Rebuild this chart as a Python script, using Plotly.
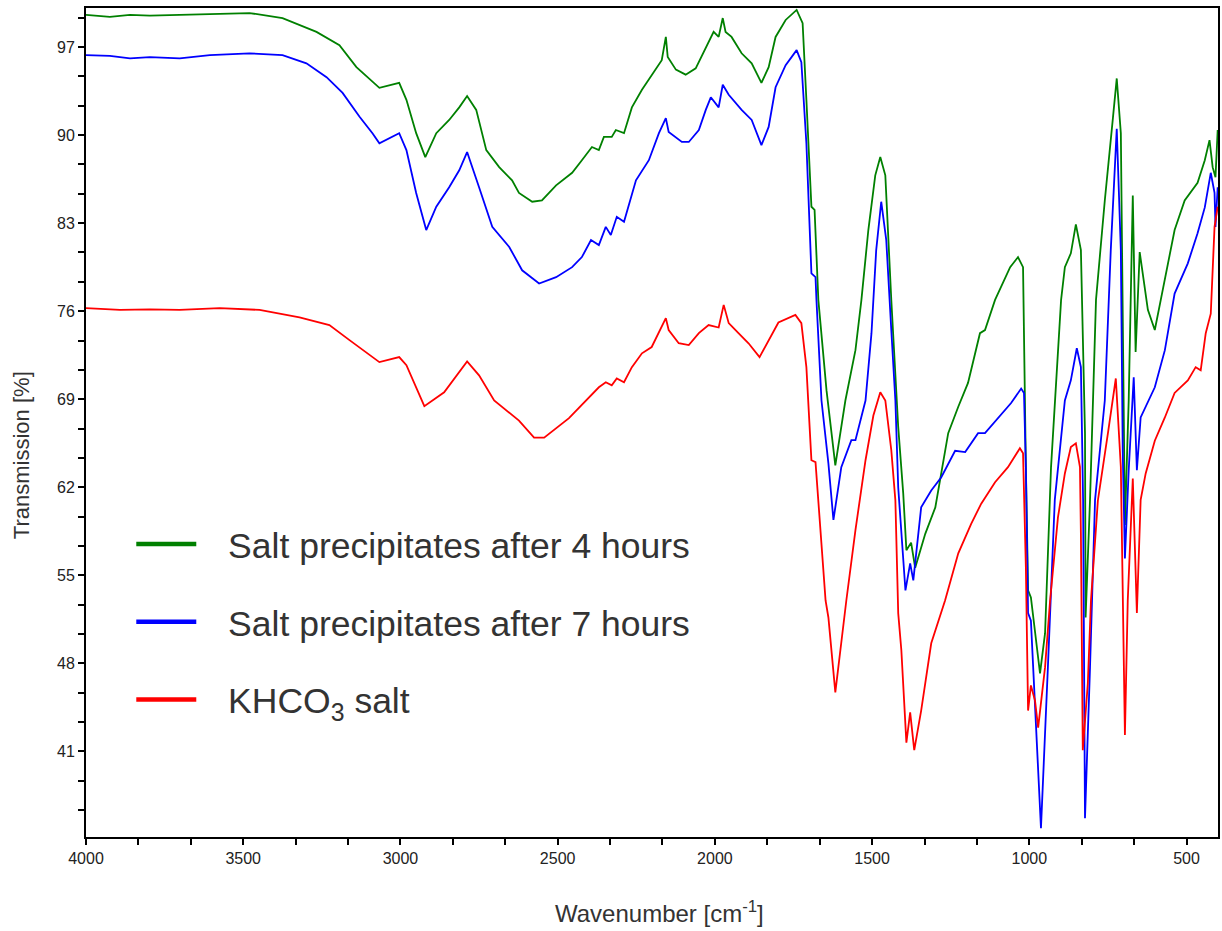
import plotly.graph_objects as go

# ---------------- data ----------------
wn_green = [4000, 3924, 3860, 3797, 3702, 3606, 3480, 3375, 3267, 3194, 3140, 3067, 3004, 2981, 2950, 2921,
            2886, 2845, 2813, 2788, 2759, 2727, 2686, 2645, 2623, 2581, 2550, 2505, 2454, 2423, 2391, 2369,
            2353, 2328, 2315, 2289, 2264, 2232, 2201, 2169, 2156, 2150, 2124, 2093, 2061, 2029, 2004, 1988,
            1975, 1966, 1947, 1915, 1883, 1852, 1829, 1807, 1775, 1740, 1721, 1709, 1693, 1683, 1671, 1645,
            1617, 1585, 1553, 1534, 1512, 1490, 1474, 1458, 1439, 1417, 1401, 1391, 1376, 1363, 1331, 1299,
            1280, 1258, 1226, 1195, 1157, 1141, 1109, 1061, 1036, 1020, 1011, 1004, 995, 966, 950, 931,
            899, 887, 868, 852, 836, 823, 821, 807, 788, 760, 734, 722, 709, 703, 696, 684, 671, 662, 649,
            623, 601, 582, 538, 506, 465, 442, 427, 417, 408, 401]
t_green = [99.55, 99.4, 99.55, 99.5, 99.55, 99.6, 99.7, 99.3, 98.2, 97.15, 95.4, 93.75, 94.15, 92.8, 90.15, 88.25,
           90.15, 91.2, 92.2, 93.1, 92.0, 88.8, 87.45, 86.4, 85.4, 84.7, 84.8, 86.0, 87.0, 88.0, 89.05, 88.8,
           89.85, 89.85, 90.4, 90.15, 92.2, 93.6, 94.8, 95.95, 97.8, 96.2, 95.2, 94.8, 95.3, 97.0, 98.2, 97.8,
           99.3, 98.2, 97.8, 96.5, 95.7, 94.15, 95.4, 97.8, 99.15, 99.95, 98.9, 92.8, 84.3, 84.05, 76.9, 69.7,
           63.75, 68.9, 72.9, 76.9, 82.45, 86.8, 88.25, 86.8, 76.9, 66.8, 61.5, 57.0, 57.6, 55.6, 58.3, 60.4,
           63.1, 66.3, 68.4, 70.3, 74.25, 74.5, 76.9, 79.5, 80.3, 79.5, 63.6, 53.8, 53.25, 47.2, 50.4, 63.6,
           76.9, 79.5, 80.6, 82.9, 80.85, 66.3, 51.65, 61.0, 76.9, 84.8, 91.4, 94.5, 90.15, 76.9, 59.0, 68.9, 85.2, 72.75, 80.7,
           76.1, 74.5, 76.9, 82.45, 84.8, 86.2, 88.0, 89.6, 87.45, 86.65, 90.4]

wn_blue = [4000, 3924, 3860, 3797, 3702, 3606, 3480, 3375, 3299, 3235, 3184, 3130, 3089, 3067, 3004, 2981,
           2950, 2918, 2886, 2845, 2813, 2788, 2750, 2708, 2654, 2613, 2559, 2505, 2454, 2423, 2394, 2369,
           2347, 2331, 2312, 2289, 2251, 2210, 2178, 2156, 2147, 2105, 2083, 2051, 2029, 2013, 1988, 1975,
           1956, 1915, 1883, 1852, 1829, 1807, 1775, 1740, 1725, 1709, 1693, 1680, 1677, 1661, 1639, 1623,
           1598, 1566, 1553, 1521, 1502, 1487, 1471, 1455, 1439, 1426, 1417, 1401, 1394, 1379, 1369, 1344,
           1312, 1280, 1236, 1204, 1163, 1141, 1099, 1058, 1026, 1017, 1011, 1004, 995, 963, 941, 919,
           887, 868, 849, 836, 829, 823, 807, 791, 760, 741, 722, 709, 703, 696, 684, 668, 658, 646,
           601, 569, 538, 496, 465, 442, 423, 411, 408, 401]
t_blue = [96.35, 96.3, 96.1, 96.2, 96.1, 96.35, 96.5, 96.35, 95.7, 94.6, 93.35, 91.45, 90.15, 89.35, 90.15, 88.8,
          85.4, 82.45, 84.3, 85.85, 87.2, 88.65, 85.85, 82.7, 81.1, 79.25, 78.2, 78.7, 79.5, 80.3, 81.65, 81.25,
          82.7, 82.05, 83.5, 83.1, 86.4, 88.0, 90.15, 91.35, 90.25, 89.45, 89.45, 90.4, 92.0, 93.0, 92.2, 94.0,
          93.2, 92.0, 91.2, 89.2, 90.65, 93.8, 95.55, 96.75, 95.8, 89.35, 79.0, 78.7, 76.9, 68.9, 63.9, 59.4,
          63.6, 65.75, 65.75, 68.9, 74.25, 80.85, 84.7, 81.65, 74.5, 68.9, 62.0, 56.2, 53.8, 55.95, 54.6, 60.4,
          61.75, 62.8, 64.9, 64.8, 66.3, 66.3, 67.55, 68.7, 69.85, 69.5, 63.6, 52.0, 51.4, 34.9, 47.7, 61.0,
          68.9, 70.5, 73.05, 71.55, 61.0, 35.7, 47.7, 61.0, 68.9, 80.85, 90.5, 80.85, 64.9, 56.35, 63.35, 70.75, 63.35, 67.55,
          69.95, 72.9, 77.4, 79.8, 82.2, 84.25, 87.0, 85.4, 82.7, 85.85]

wn_red = [4000, 3892, 3797, 3702, 3575, 3448, 3321, 3226, 3162, 3067, 3004, 2981, 2924, 2861, 2788, 2750,
          2702, 2623, 2575, 2543, 2464, 2369, 2347, 2328, 2312, 2289, 2264, 2232, 2201, 2172, 2156, 2147,
          2115, 2083, 2051, 2020, 1988, 1972, 1956, 1925, 1893, 1858, 1829, 1798, 1744, 1725, 1709, 1693,
          1680, 1671, 1648, 1639, 1617, 1582, 1553, 1521, 1496, 1474, 1458, 1439, 1426, 1417, 1407, 1391,
          1379, 1366, 1344, 1312, 1268, 1226, 1185, 1153, 1109, 1068, 1030, 1020, 1011, 1004, 995, 982,
          972, 950, 934, 909, 887, 868, 852, 839, 836, 830, 814, 804, 782, 750, 725, 709, 703, 696, 687,
          671, 658, 646, 630, 601, 569, 538, 496, 471, 455, 439, 423, 411, 401]
t_red = [76.25, 76.1, 76.15, 76.1, 76.25, 76.1, 75.5, 74.9, 73.7, 71.95, 72.35, 71.7, 68.45, 69.55, 72.0, 70.9,
         68.9, 67.3, 65.95, 65.95, 67.5, 69.95, 70.35, 70.1, 70.65, 70.35, 71.55, 72.65, 73.15, 74.65, 75.45, 74.5,
         73.45, 73.3, 74.25, 74.9, 74.7, 76.5, 75.05, 74.25, 73.45, 72.35, 73.7, 75.1, 75.7, 75.05, 71.55, 64.15,
         64.0, 60.95, 53.0, 51.65, 45.7, 53.0, 58.6, 64.15, 67.7, 69.55, 68.9, 64.95, 60.95, 52.0, 49.05, 41.7,
         44.1, 41.1, 44.25, 49.6, 53.0, 56.75, 59.1, 60.7, 62.4, 63.6, 65.1, 64.7, 55.65, 44.25, 46.25, 45.05,
         42.9, 47.7, 53.0, 59.6, 63.1, 65.2, 65.5, 63.6, 58.3, 41.1, 46.4, 53.0, 60.95, 66.3, 70.65, 63.6, 53.0, 42.3, 53.0,
         62.7, 52.0, 61.0, 63.1, 65.7, 67.55, 69.5, 70.5, 71.55, 71.3, 74.25, 75.8, 82.7, 84.3]

series_names = ["Salt precipitates after 4 hours", "Salt precipitates after 7 hours", "KHCO<sub>3</sub> salt"]
series_colors = ["#008000", "#0000ff", "#ff0000"]
x_ticks = [4000, 3500, 3000, 2500, 2000, 1500, 1000, 500]
y_ticks = [41, 48, 55, 62, 69, 76, 83, 90, 97]
x_title = "Wavenumber [cm<sup>-1</sup>]"
y_title = "Transmission [%]"

FONT = "Liberation Sans, Arial, sans-serif"

fig = go.Figure()
for xs, ys, name, col in zip([wn_green, wn_blue, wn_red], [t_green, t_blue, t_red], series_names, series_colors):
    fig.add_trace(go.Scatter(x=xs, y=ys, mode="lines", line=dict(color=col, width=1.8),
                             name=name, showlegend=False, hoverinfo="x+y"))
# legend entries (thicker line samples, as in the reference)
for i, (name, col) in enumerate(zip(series_names, series_colors)):
    fig.add_trace(go.Scatter(x=[None], y=[None], mode="lines", line=dict(color=col, width=4.5),
                             name="\u00a0\u00a0\u2009" + name, legendgroup="g%d" % i, showlegend=True))

fig.update_layout(
    width=1222, height=931,
    margin=dict(l=86, r=2, t=8, b=94),
    paper_bgcolor="white", plot_bgcolor="white",
    font=dict(family=FONT, color="#333333"),
    showlegend=True,
    legend=dict(x=0.04, y=0.389, xanchor="left", yanchor="top", xref="paper", yref="paper",
                font=dict(size=35.5, color="#333333", family=FONT),
                itemwidth=60, tracegroupgap=28.5, bgcolor="rgba(0,0,0,0)"),
    annotations=[
        dict(text=x_title, xref="paper", yref="paper", x=0.507, y=-0.0905,
             xanchor="center", yanchor="middle", showarrow=False,
             font=dict(size=24, color="#333333", family=FONT)),
        dict(text=y_title, xref="paper", yref="paper", x=-0.0564, y=0.4608, textangle=-90,
             xanchor="center", yanchor="middle", showarrow=False,
             font=dict(size=22, color="#333333", family=FONT)),
    ],
)
fig.update_xaxes(
    range=[4000, 400], autorange=False,
    tickmode="array", tickvals=x_ticks, ticktext=[str(v) for v in x_ticks],
    ticks="outside", ticklen=6, tickwidth=2, tickcolor="black",
    minor=dict(ticks="outside", tick0=0, dtick=500 / 3, ticklen=6, tickwidth=2, tickcolor="black"),
    showline=True, linecolor="black", linewidth=2, mirror=True,
    showgrid=False, zeroline=False,
    tickfont=dict(size=16, color="#222222", family=FONT),
)
fig.update_yaxes(
    range=[34.2, 100.1], autorange=False,
    tickmode="array", tickvals=y_ticks, ticktext=[str(v) for v in y_ticks],
    ticks="outside", ticklen=6, tickwidth=2, tickcolor="black",
    minor=dict(ticks="outside", tick0=41, dtick=7 / 3, ticklen=6, tickwidth=2, tickcolor="black"),
    showline=True, linecolor="black", linewidth=2, mirror=True,
    showgrid=False, zeroline=False,
    tickfont=dict(size=16, color="#222222", family=FONT),
)

fig.write_html("out.html", config={"displayModeBar": False},
               post_script="document.body.style.margin='0px';document.body.style.overflow='hidden';")
